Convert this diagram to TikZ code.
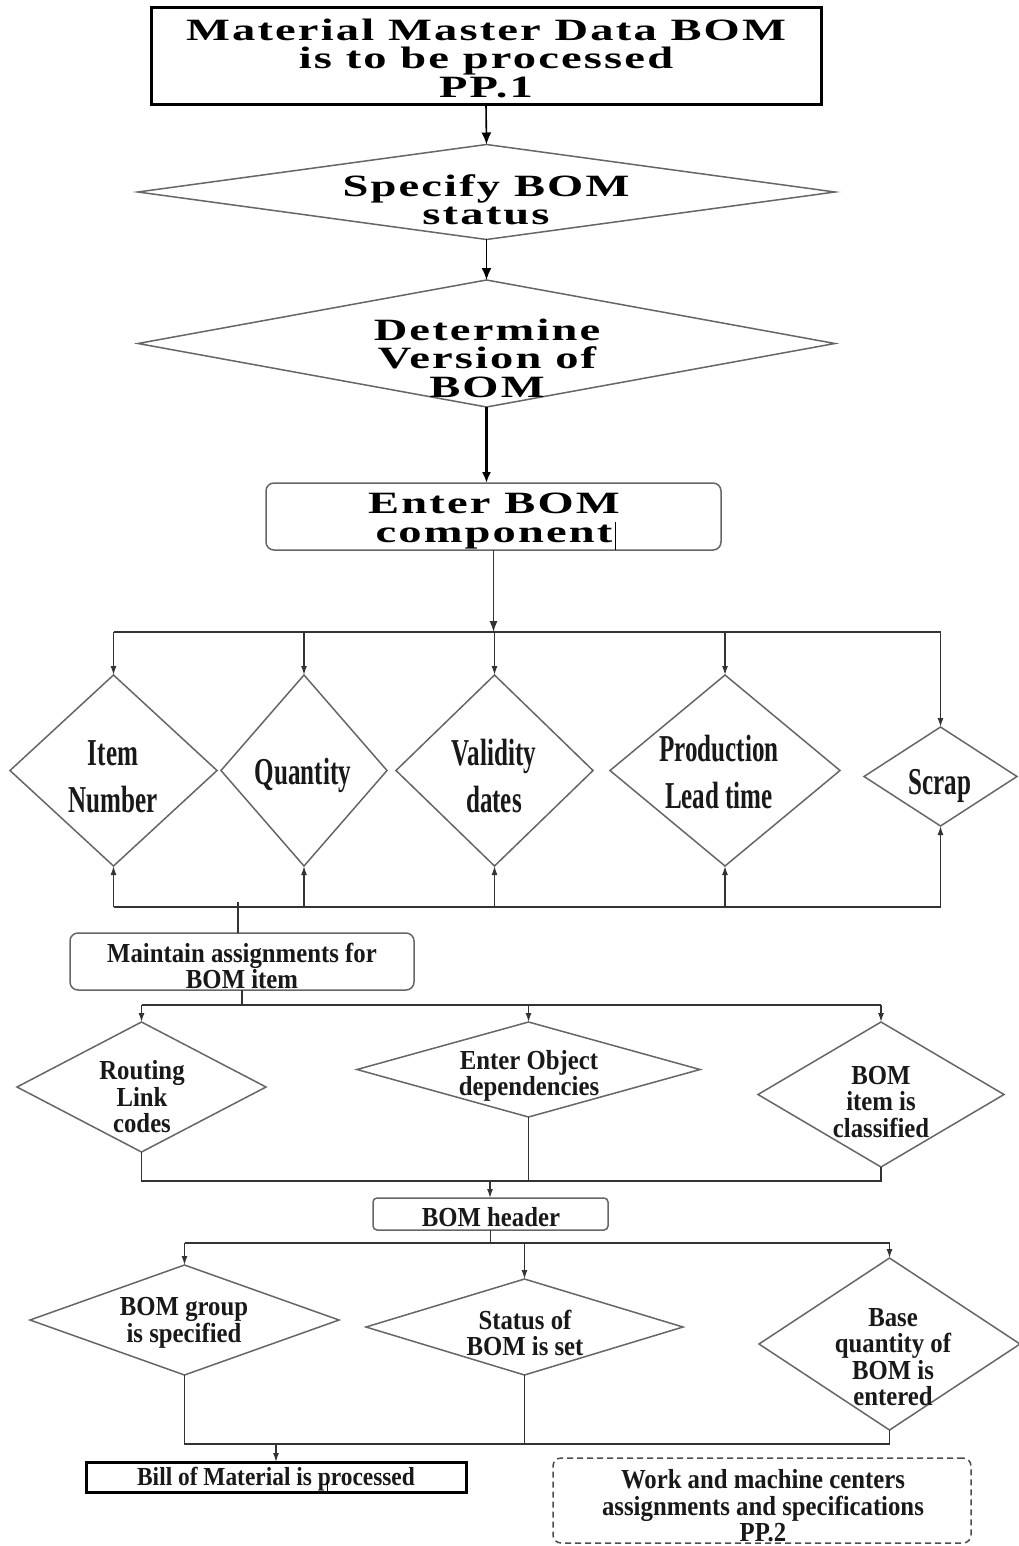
\documentclass[tikz,border=0pt]{standalone}
\usepackage{fontspec}
\setmainfont{Liberation Serif}
\newfontfamily\widefont[FakeStretch=1.5,LetterSpace=7]{Liberation Serif}
\newfontfamily\tallfont[FakeStretch=0.66]{Liberation Serif}
\newfontfamily\lowfont[FakeStretch=0.9]{Liberation Serif}
\usetikzlibrary{shapes.geometric,arrows.meta}

\tikzset{
  conn/.style={draw=black!80, line width=1.3pt},
  arr/.style={conn, -{Latex[length=9pt,width=6pt]}},
  bigarr/.style={draw=black, line width=1.6pt, -{Latex[length=12pt,width=10pt]}},
  dia/.style={shape=diamond, draw=black!60, line width=1.5pt, inner sep=0pt, outer sep=0pt},
  widetxt/.style={inner sep=0pt, align=center, text=black, font={\widefont\bfseries\fontsize{31}{28.5}\selectfont}},
  talltxt/.style={inner sep=0pt, align=center, text=black!90, font={\tallfont\bfseries\fontsize{38}{47}\selectfont}},
  lowtxt/.style={inner sep=0pt, align=center, text=black!90, font={\lowfont\bfseries\fontsize{27.5}{26.5}\selectfont}},
  softbox/.style={draw=black!60, line width=1.5pt, rounded corners=8pt, inner sep=0pt, outer sep=0pt},
  hardbox/.style={draw=black, line width=3pt, inner sep=0pt, outer sep=0pt}
}

\begin{document}
\begin{tikzpicture}[x=1pt,y=-1pt]
\useasboundingbox (0,0) rectangle (1019,1546);
\fill[white] (0,0) rectangle (1019,1546);

% ---- upper part ----
\node[hardbox, minimum width=670pt, minimum height=97pt] (top) at (486,56.5) {};
\node[widetxt] (top-t) at (486,58) {Material Master Data BOM\\is to be processed\\PP.1};

\node[dia, minimum width=697pt, minimum height=95pt] (spec) at (486.5,192) {};
\node[widetxt] (spec-t) at (486,200) {Specify BOM\\status};

\node[dia, minimum width=697pt, minimum height=127pt] (det) at (486.5,343.5) {};
\node[widetxt] (det-t) at (487,358) {Determine\\Version of\\BOM};

\node[softbox, minimum width=455pt, minimum height=67pt] (enter) at (493.5,516.5) {};
\node[widetxt] (enter-t) at (494,521) {Enter BOM\\component};
\draw[black, line width=1pt] (615,522) -- (615,550);

\draw[bigarr] (top.south) -- (spec.north);
\draw[bigarr] (spec.south) -- (det.north);
\draw[bigarr, line width=3pt, -{Latex[length=11pt,width=9pt]}] (det.south) -- (det.south |- enter.north);

% ---- item data ----
\node[dia, minimum width=207pt, minimum height=191pt] (item) at (113.5,770.5) {};
\node[talltxt] (item-t) at (113,777) {Item\\Number};
\node[dia, minimum width=166pt, minimum height=191pt] (qty) at (304,770.5) {};
\node[talltxt] (qty-t) at (303,775) {Quantity};
\node[dia, minimum width=197pt, minimum height=191pt] (val) at (494.5,770.5) {};
\node[talltxt] (val-t) at (494,776) {Validity\\dates};
\node[dia, minimum width=230pt, minimum height=191pt] (prod) at (725,770.5) {};
\node[talltxt] (prod-t) at (719,772) {Production\\Lead time};
\node[dia, minimum width=153pt, minimum height=99pt] (scrap) at (940.5,776.5) {};
\node[talltxt] (scrap-t) at (940,786) {Scrap};

\coordinate (b1) at (493,632);
\coordinate (b2) at (238,907);
\draw[arr, -{Latex[length=11pt,width=8pt]}] (enter.south) -- (enter.south |- b1);
\draw[conn] (item.north |- b1) -- (scrap.north |- b1);
\foreach \n in {item,qty,val,prod,scrap}
  \draw[arr] (\n.north |- b1) -- (\n.north);
\draw[conn] (item.south |- b2) -- (scrap.south |- b2);
\foreach \n in {item,qty,val,prod,scrap}
  \draw[arr] (\n.south |- b2) -- (\n.south);

% ---- assignments ----
\node[softbox, minimum width=344pt, minimum height=57pt] (maint) at (242,961.5) {};
\node[lowtxt] (maint-t) at (242,966) {Maintain assignments for\\BOM item};
\draw[conn] ([yshift=5pt]b2) -- (b2 |- maint.north);

\node[dia, minimum width=249pt, minimum height=130pt] (route) at (141.5,1087) {};
\node[lowtxt] (route-t) at (142,1097) {Routing\\Link\\codes};
\node[dia, minimum width=343pt, minimum height=95pt] (obj) at (528.5,1069.5) {};
\node[lowtxt] (obj-t) at (529,1076) {Enter Object\\dependencies};
\node[dia, minimum width=246pt, minimum height=145pt] (cls) at (881,1094.5) {};
\node[lowtxt] (cls-t) at (881,1102) {BOM\\item is\\classified};

\coordinate (b3) at (242,1005);
\coordinate (b4) at (490,1181);
\draw[conn] (maint.south) -- (b3);
\draw[conn] (route.north |- b3) -- (cls.north |- b3);
\foreach \n in {route,obj,cls}
  \draw[arr] (\n.north |- b3) -- (\n.north);
\draw[conn] (route.south) -- (route.south |- b4) -- (cls.south |- b4) -- (cls.south);
\draw[conn] (obj.south) -- (obj.south |- b4);

% ---- header ----
\node[softbox, rounded corners=4pt, minimum width=235pt, minimum height=32pt] (head) at (490.5,1214) {};
\node[lowtxt] (head-t) at (491,1217) {BOM header};
\draw[arr] (b4) -- (b4 |- head.north);

\node[dia, minimum width=309pt, minimum height=110pt] (grp) at (184.5,1320) {};
\node[lowtxt] (grp-t) at (184,1323) {BOM group\\is specified};
\node[dia, minimum width=317pt, minimum height=96pt] (sts) at (524.5,1327) {};
\node[lowtxt] (sts-t) at (525,1333) {Status of\\BOM is set};
\node[dia, minimum width=261pt, minimum height=172pt] (base) at (889.5,1344) {};
\node[lowtxt] (base-t) at (893,1357) {Base\\quantity of\\BOM is\\entered};

\coordinate (b5) at (490,1243);
\coordinate (b6) at (276,1444);
\draw[conn] (head.south) -- (head.south |- b5);
\draw[conn] (grp.north |- b5) -- (base.north |- b5);
\foreach \n in {grp,sts,base}
  \draw[arr] (\n.north |- b5) -- (\n.north);
\draw[conn] (grp.south) -- (grp.south |- b6) -- (base.south |- b6) -- (base.south);
\draw[conn] (sts.south) -- (sts.south |- b6);

% ---- results ----
\node[hardbox, minimum width=380pt, minimum height=30pt] (bill) at (276,1477) {};
\node[lowtxt, font={\lowfont\bfseries\fontsize{26}{26}\selectfont}] (bill-t) at (276,1479) {Bill of Material is processed};
\draw[arr] (b6) -- (bill.north);
\draw[black, line width=1pt] (327,1480) -- (327,1492);

\node[softbox, draw=black!70, dashed, dash pattern=on 6pt off 4pt, minimum width=418pt, minimum height=85pt] (work) at (762,1500.5) {};
\node[lowtxt] (work-t) at (763,1506) {Work and machine centers\\assignments and specifications\\PP.2};
\end{tikzpicture}
\end{document}
